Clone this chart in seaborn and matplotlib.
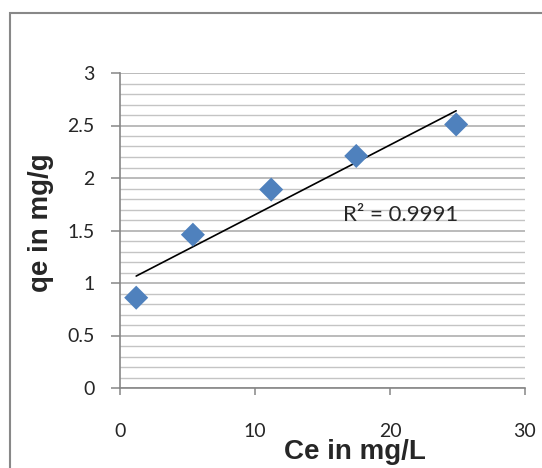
import matplotlib
matplotlib.use("Agg")
import matplotlib.pyplot as plt
import numpy as np
import pandas as pd
import seaborn as sns
from matplotlib.patches import Rectangle
from matplotlib.ticker import MultipleLocator, FuncFormatter

# data
ce = [1.2, 5.4, 11.2, 17.5, 24.9]
qe = [0.86, 1.46, 1.89, 2.21, 2.51]
r2_text = "R\u00b2 = 0.9991"

df = pd.DataFrame({"ce": ce, "qe": qe})

# linear trendline through the points
slope, intercept = np.polyfit(df["ce"], df["qe"], 1)
trend = pd.DataFrame({"ce": [min(ce), max(ce)]})
trend["qe"] = slope * trend["ce"] + intercept

sns.set_style("white")

fig = plt.figure(figsize=(5.42, 4.68), dpi=100)
ax = fig.add_axes([120 / 542, 1 - 388 / 468, 405 / 542, 315 / 468])

# outer chart border (cut at right/bottom like the reference)
fig.patches.append(Rectangle((10 / 542, -0.05), 1.0, 1 - 13 / 468 + 0.05,
                             transform=fig.transFigure, fill=False,
                             edgecolor="#888888", linewidth=1.5))

ax.set_xlim(0, 30)
ax.set_ylim(0, 3)
ax.xaxis.set_major_locator(MultipleLocator(10))
ax.yaxis.set_major_locator(MultipleLocator(0.5))
ax.yaxis.set_minor_locator(MultipleLocator(0.1))
ax.yaxis.set_major_formatter(FuncFormatter(lambda v, p: f"{v:g}"))

ax.grid(False)
ax.yaxis.grid(True, which="minor", color="#c4c4c4", linewidth=1.0)
ax.yaxis.grid(True, which="major", color="#a8a8a8", linewidth=1.1)
ax.set_axisbelow(True)

sns.lineplot(data=trend, x="ce", y="qe", ax=ax, color="black", linewidth=1.2)
sns.scatterplot(data=df, x="ce", y="qe", ax=ax, marker="D", s=150,
                color="#4F81BD", edgecolor="none", zorder=3)

ax.text(16.5, 1.593, r2_text, fontsize=16, family="Lato", va="baseline", ha="left")

for s in ["top", "right"]:
    ax.spines[s].set_visible(False)
for s in ["left", "bottom"]:
    ax.spines[s].set_color("#868686")
    ax.spines[s].set_linewidth(1.2)

ax.tick_params(axis="y", which="major", direction="out", length=6.5, width=1.1,
               color="#868686", left=True, labelsize=14, pad=12)
ax.tick_params(axis="y", which="minor", left=False)
ax.tick_params(axis="x", which="major", direction="out", length=5, width=1.1,
               color="#868686", bottom=True, labelsize=14, pad=20)
for lab in ax.get_xticklabels() + ax.get_yticklabels():
    lab.set_family("Lato")

ax.set_xlabel("")
ax.set_ylabel("")
fig.text(354.5 / 542, 1 - 459.3 / 468, "Ce in mg/L", fontsize=20, fontweight="bold",
         family="Liberation Sans", ha="center", va="baseline")
fig.text(41.5 / 542, 1 - 223 / 468, "qe in mg/g", fontsize=20, fontweight="bold",
         family="Liberation Sans", ha="center", va="center", rotation=90)

fig.savefig("out.png", dpi=100)
